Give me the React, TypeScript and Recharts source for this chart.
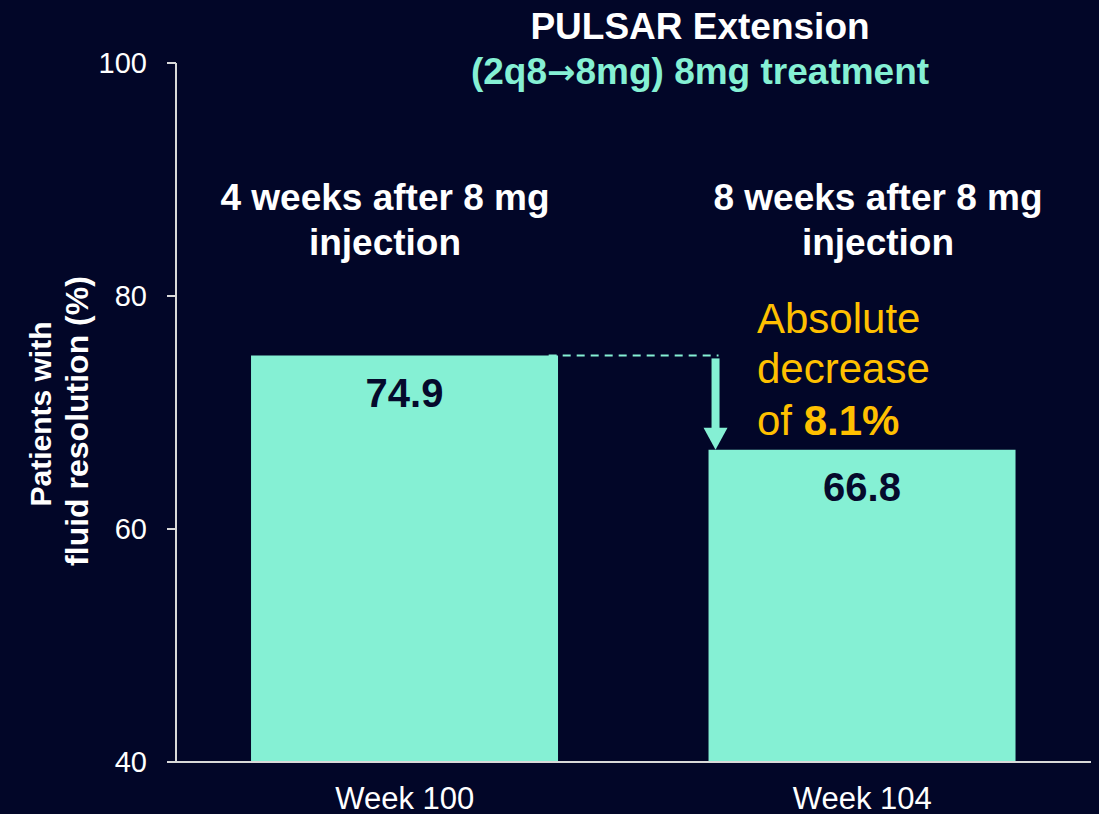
import React from 'react';
import { BarChart, Bar, XAxis, YAxis, LabelList, Customized } from 'recharts';

const categories = ['Week 100', 'Week 104'];
const values = [74.9, 66.8];
const yTicks = [40, 60, 80, 100];
const yDomain = [40, 100];
const titleLine1 = 'PULSAR Extension';
const titleLine2a = '(2q8';
const titleArrow = '\u2192';
const titleLine2b = '8mg) 8mg treatment';
const leftHeader = ['4 weeks after 8 mg', 'injection'];
const rightHeader = ['8 weeks after 8 mg', 'injection'];
const yLabelLines = ['Patients with', 'fluid resolution (%)'];
const noteLines = ['Absolute', 'decrease'];
const notePrefix = 'of ';
const noteValue = '8.1%';

const data = categories.map((c, i) => ({ name: c, value: values[i] }));

const FONT = '"Liberation Sans", Arial, sans-serif';
const BG = '#020628';
const TEAL = '#85F0D4';
const ORANGE = '#FFC000';
const AXIS = '#D9D9D9';
const GAP = 0.164;

// Draws the dashed level line and the downward arrow, anchored on the second bar's geometry
const DecreaseMarker = (props: any) => {
  const { x, y, width, height, index } = props;
  if (index !== 1) return null;
  const pxPerUnit = height / (values[1] - yDomain[0]);
  const yPrev = y - (values[0] - values[1]) * pxPerUnit;
  const band = width / (1 - 2 * GAP);
  const prevRight = x - (band - width);
  const ax = x + 7;
  const head = 22;
  const hw = 12;
  return (
    <g>
      <line x1={prevRight - 10} y1={yPrev} x2={x + 10} y2={yPrev} stroke={TEAL} strokeWidth={2} strokeDasharray="8 6" />
      <line x1={ax} y1={yPrev + 3} x2={ax} y2={y - head + 2} stroke={TEAL} strokeWidth={8} />
      <polygon points={`${ax - hw},${y - head} ${ax + hw},${y - head} ${ax},${y}`} fill={TEAL} />
    </g>
  );
};

const Overlay = () => (
  <g fontFamily={FONT}>
    <text x={700} y={39} textAnchor="middle" fill="#FFFFFF" fontSize={37} fontWeight="bold">{titleLine1}</text>
    <text x={700} y={84} textAnchor="middle" fill={TEAL} fontSize={37} fontWeight="bold">
      {titleLine2a}
      <tspan fontFamily='"DejaVu Sans", sans-serif' fontSize={34}>{titleArrow}</tspan>
      {titleLine2b}
    </text>
    <text x={385} y={210} textAnchor="middle" fill="#FFFFFF" fontSize={37} fontWeight="bold">{leftHeader[0]}</text>
    <text x={385} y={255} textAnchor="middle" fill="#FFFFFF" fontSize={37} fontWeight="bold">{leftHeader[1]}</text>
    <text x={878} y={210} textAnchor="middle" fill="#FFFFFF" fontSize={37} fontWeight="bold">{rightHeader[0]}</text>
    <text x={878} y={255} textAnchor="middle" fill="#FFFFFF" fontSize={37} fontWeight="bold">{rightHeader[1]}</text>
    <text x={757} y={333} fill={ORANGE} fontSize={42}>{noteLines[0]}</text>
    <text x={757} y={383} fill={ORANGE} fontSize={42}>{noteLines[1]}</text>
    <text x={757} y={435} fill={ORANGE} fontSize={42}>
      {notePrefix}<tspan fontWeight="bold">{noteValue}</tspan>
    </text>
    <g transform="translate(51, 414) rotate(-90)">
      <text x={0} y={0} textAnchor="middle" fill="#FFFFFF" fontSize={30} fontWeight="bold">{yLabelLines[0]}</text>
    </g>
    <g transform="translate(88, 421) rotate(-90)">
      <text x={0} y={0} textAnchor="middle" fill="#FFFFFF" fontSize={32} fontWeight="bold">{yLabelLines[1]}</text>
    </g>
  </g>
);

export default function App() {
  return (
    <div style={{ position: 'absolute', left: 0, top: 0, width: 1099, height: 814, background: BG, overflow: 'hidden' }}>
      <BarChart
        width={1099}
        height={814}
        data={data}
        margin={{ top: 63, right: 8, bottom: 0, left: 0 }}
        barCategoryGap={`${GAP * 100}%`}
      >
        <XAxis
          dataKey="name"
          height={52}
          axisLine={{ stroke: AXIS, strokeWidth: 2 }}
          tickLine={false}
          tickSize={0}
          tickMargin={25}
          tick={{ fill: '#FFFFFF', fontSize: 31, fontFamily: FONT }}
        />
        <YAxis
          width={176}
          domain={yDomain}
          ticks={yTicks}
          interval={0}
          allowDataOverflow
          axisLine={{ stroke: AXIS, strokeWidth: 2 }}
          tickLine={{ stroke: AXIS, strokeWidth: 2 }}
          tickSize={9}
          tickMargin={20}
          tick={{ fill: '#FFFFFF', fontSize: 29, fontFamily: FONT }}
        />
        <Bar dataKey="value" fill={TEAL} isAnimationActive={false}>
          <LabelList
            dataKey="value"
            position="insideTop"
            offset={23}
            fill="#050A2C"
            fontSize={40}
            fontWeight="bold"
            fontFamily={FONT}
          />
          <LabelList dataKey="value" content={<DecreaseMarker />} />
        </Bar>
        <Customized component={<Overlay />} />
      </BarChart>
    </div>
  );
}
